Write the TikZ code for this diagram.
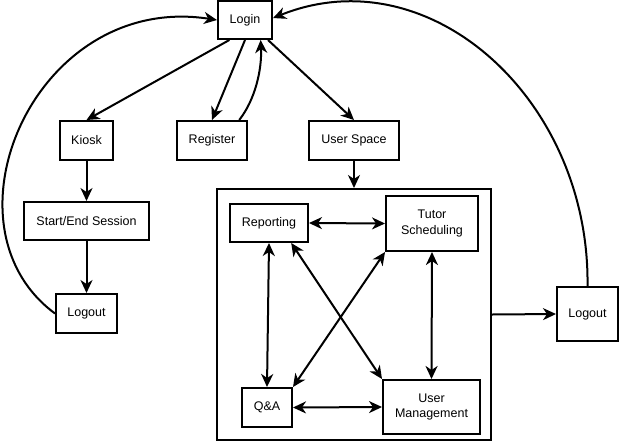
\documentclass[tikz,border=0pt]{standalone}
\usepackage{fontspec}
\setmainfont{Liberation Sans}
\usetikzlibrary{arrows.meta}
\begin{document}
\begin{tikzpicture}[x=1pt,y=-1pt,
  box/.style={draw,line width=2pt,rectangle,inner sep=0pt,align=center,
    font=\fontsize{12.5}{15.5}\selectfont},
  conn/.style={line width=2pt,-{Stealth[length=13pt,width=12pt,inset=4pt]}},
  bi/.style={line width=2pt,{Stealth[length=13pt,width=12pt,inset=4pt]}-{Stealth[length=13pt,width=12pt,inset=4pt]}}]
\useasboundingbox (0,0) rectangle (620,442);
\node[box,minimum width=54pt,minimum height=38pt] (login) at (245,20) {Login};
\node[box,minimum width=53pt,minimum height=39pt] (kiosk) at (86.5,140.5) {Kiosk};
\node[box,minimum width=70pt,minimum height=39pt] (reg) at (212,140.5) {Register};
\node[box,minimum width=90pt,minimum height=39pt] (us) at (354,140.5) {User Space};
\node[box,minimum width=125pt,minimum height=38pt] (ses) at (86.5,221) {Start/End Session};
\node[box,minimum width=61pt,minimum height=39pt] (ll) at (86.5,313.5) {Logout};
\node[box,minimum width=274pt,minimum height=251pt] (cont) at (354,314.5) {};
\node[box,minimum width=78pt,minimum height=38pt] (rep) at (269,223) {Reporting};
\node[box,minimum width=92pt,minimum height=55pt] (tut) at (432,223.5) {Tutor\\Scheduling};
\node[box,minimum width=50pt,minimum height=39pt] (qa) at (267,407.5) {Q\&A};
\node[box,minimum width=97pt,minimum height=54pt] (um) at (431.5,407) {User\\Management};
\node[box,minimum width=61pt,minimum height=54pt] (lr) at (587.5,314) {Logout};

\draw[conn] (login.-128) -- (kiosk.north);
\draw[conn] (login.south) -- (reg.north);
\draw[conn] (reg.37) .. controls (255,100) and (262,70) .. (login.-52);
\draw[conn] (login.-41) -- (us.north);
\draw[conn] (kiosk.south) -- (ses.north);
\draw[conn] (ses.south) -- (ll.north);
\draw[conn] (ll.west) .. controls (-65,225) and (35,-8) .. (login.west);
\draw[conn] (us.south) -- (cont.north);
\draw[conn] (cont.east) -- (lr.west);
\draw[conn] (lr.north) .. controls (590,100) and (430,-45) .. (login.4);
\draw[bi] (rep.east) -- (tut.west);
\draw[bi] (rep.south) -- (qa.north);
\draw[bi] (rep.-42) -- (um.north west);
\draw[bi] (tut.south west) -- (qa.north east);
\draw[bi] (tut.south) -- (um.north);
\draw[bi] (qa.east) -- (um.west);
\end{tikzpicture}
\end{document}
